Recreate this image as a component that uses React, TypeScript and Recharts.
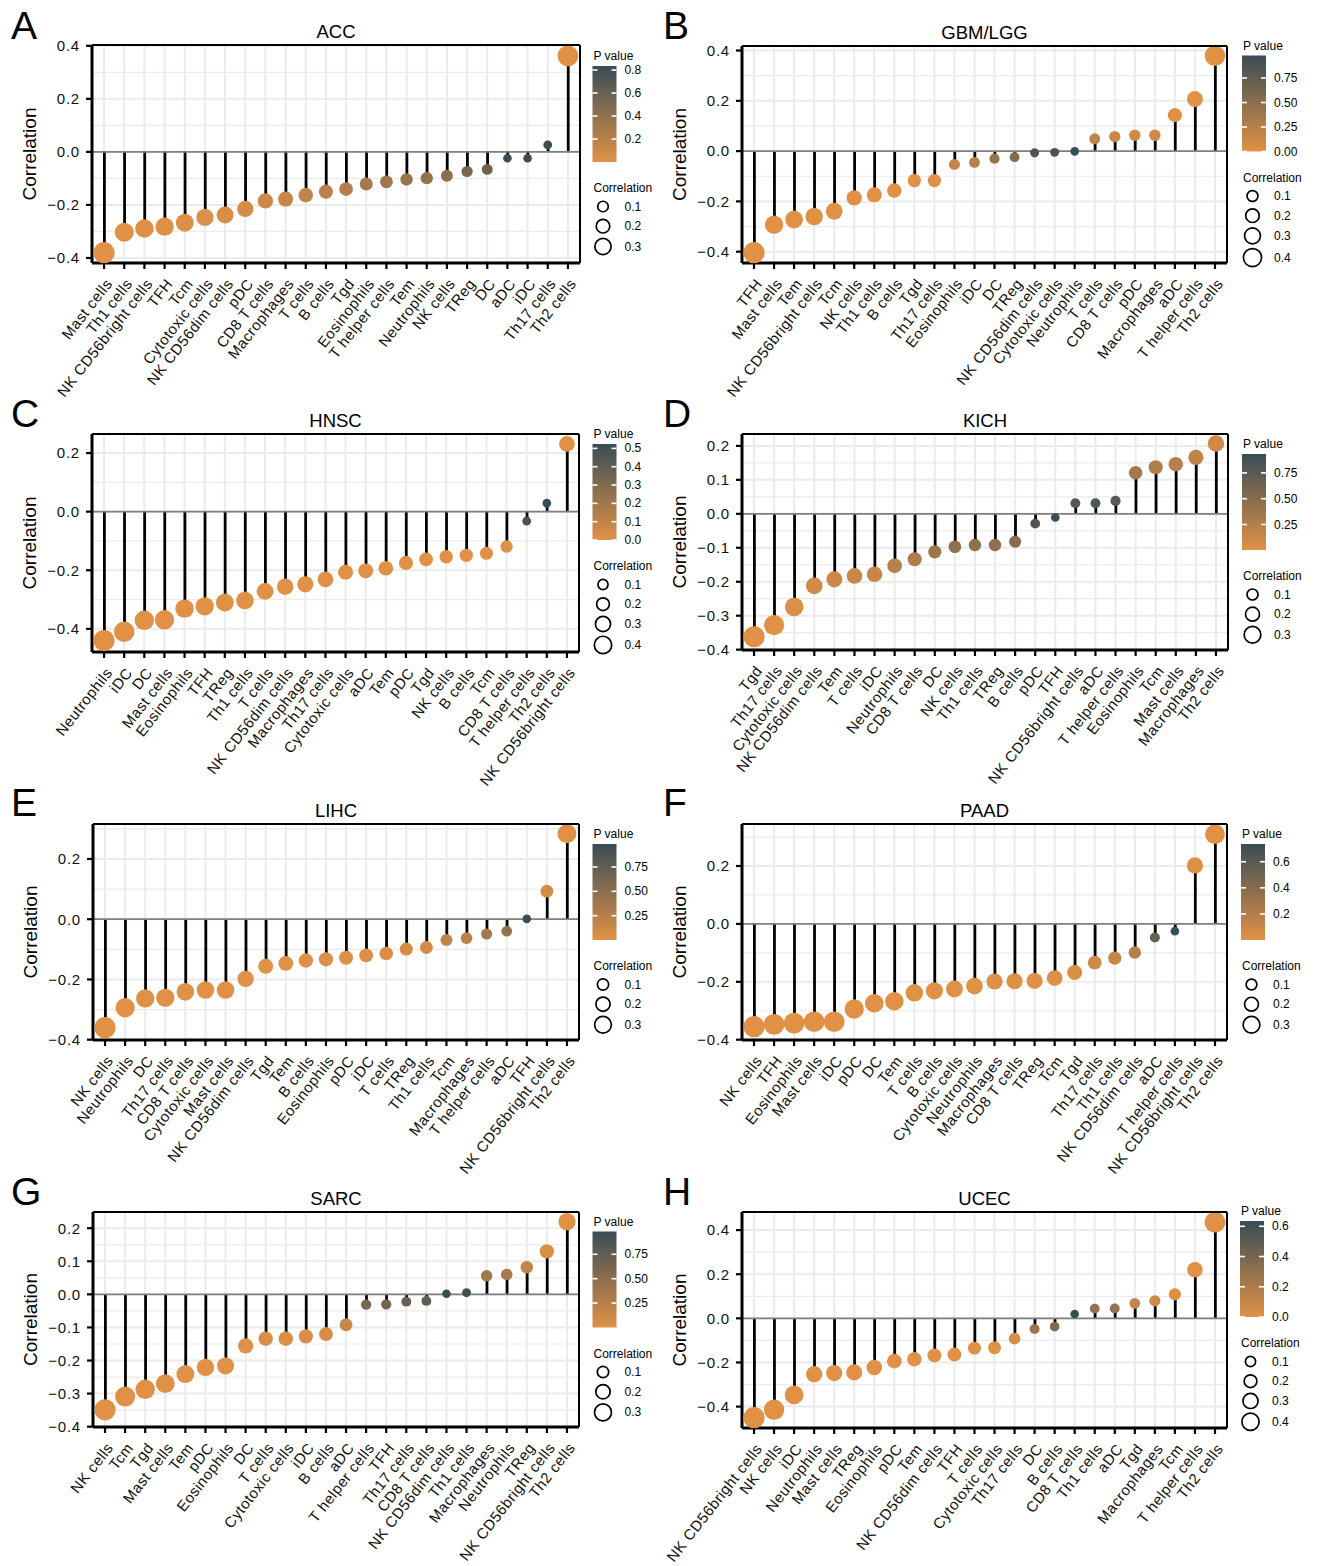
import React from "react"
import { Bar, CartesianGrid, ComposedChart, Line, ReferenceLine, XAxis, YAxis } from "recharts"

// ACC
const accCells = ["Mast cells", "Th1 cells", "NK CD56bright cells", "TFH", "Tcm", "Cytotoxic cells", "NK CD56dim cells", "pDC", "CD8 T cells", "Macrophages", "T cells", "B cells", "Tgd", "Eosinophils", "T helper cells", "Tem", "Neutrophils", "NK cells", "TReg", "DC", "aDC", "iDC", "Th17 cells", "Th2 cells"]
const accCor = [-0.38, -0.303, -0.289, -0.282, -0.267, -0.247, -0.238, -0.215, -0.185, -0.178, -0.163, -0.15, -0.14, -0.121, -0.113, -0.104, -0.099, -0.09, -0.074, -0.066, -0.024, -0.024, 0.026, 0.362]
const accP = [0.001, 0.007, 0.01, 0.012, 0.018, 0.028, 0.035, 0.057, 0.1, 0.12, 0.15, 0.19, 0.22, 0.29, 0.32, 0.36, 0.39, 0.43, 0.52, 0.56, 0.83, 0.835, 0.82, 0.001]

// GBM/LGG
const gbmCells = ["TFH", "Mast cells", "Tem", "NK CD56bright cells", "Tcm", "NK cells", "Th1 cells", "B cells", "Tgd", "Th17 cells", "Eosinophils", "iDC", "DC", "TReg", "NK CD56dim cells", "Cytotoxic cells", "Neutrophils", "T cells", "CD8 T cells", "pDC", "Macrophages", "aDC", "T helper cells", "Th2 cells"]
const gbmCor = [-0.404, -0.293, -0.272, -0.26, -0.239, -0.186, -0.174, -0.157, -0.117, -0.117, -0.053, -0.045, -0.03, -0.024, -0.007, -0.005, -0.001, 0.049, 0.058, 0.063, 0.063, 0.143, 0.207, 0.379]
const gbmP = [0, 0, 0, 0, 0, 0, 0, 0, 0.002, 0.002, 0.17, 0.24, 0.44, 0.53, 0.86, 0.9, 0.98, 0.2, 0.13, 0.1, 0.1, 0, 0, 0]

// HNSC
const hnscCells = ["Neutrophils", "iDC", "DC", "Mast cells", "Eosinophils", "TFH", "TReg", "Th1 cells", "T cells", "NK CD56dim cells", "Macrophages", "Th17 cells", "Cytotoxic cells", "aDC", "Tem", "pDC", "Tgd", "NK cells", "B cells", "Tcm", "CD8 T cells", "T helper cells", "Th2 cells", "NK CD56bright cells"]
const hnscCor = [-0.44, -0.41, -0.371, -0.369, -0.331, -0.323, -0.31, -0.303, -0.272, -0.256, -0.248, -0.231, -0.207, -0.202, -0.193, -0.175, -0.163, -0.154, -0.149, -0.142, -0.119, -0.032, 0.029, 0.231]
const hnscP = [0, 0, 0, 0, 0, 0, 0, 0, 0, 0, 0, 0, 0, 0, 0, 0, 0, 0, 0.001, 0.001, 0.006, 0.47, 0.524, 0]

// KICH
const kichCells = ["Tgd", "Th17 cells", "Cytotoxic cells", "NK CD56dim cells", "Tem", "T cells", "iDC", "Neutrophils", "CD8 T cells", "DC", "NK cells", "Th1 cells", "TReg", "B cells", "pDC", "TFH", "NK CD56bright cells", "aDC", "T helper cells", "Eosinophils", "Tcm", "Mast cells", "Macrophages", "Th2 cells"]
const kichCor = [-0.362, -0.328, -0.274, -0.212, -0.193, -0.183, -0.178, -0.153, -0.134, -0.112, -0.097, -0.092, -0.092, -0.082, -0.029, -0.011, 0.031, 0.031, 0.038, 0.121, 0.137, 0.146, 0.166, 0.207]
const kichP = [0.003, 0.007, 0.026, 0.087, 0.12, 0.14, 0.15, 0.22, 0.28, 0.37, 0.44, 0.46, 0.46, 0.51, 0.82, 0.933, 0.8, 0.8, 0.76, 0.33, 0.27, 0.24, 0.18, 0.095]

// LIHC
const lihcCells = ["NK cells", "Neutrophils", "DC", "Th17 cells", "CD8 T cells", "Cytotoxic cells", "Mast cells", "NK CD56dim cells", "Tgd", "Tem", "B cells", "Eosinophils", "pDC", "iDC", "T cells", "TReg", "Th1 cells", "Tcm", "Macrophages", "T helper cells", "aDC", "TFH", "NK CD56bright cells", "Th2 cells"]
const lihcCor = [-0.36, -0.294, -0.263, -0.261, -0.241, -0.235, -0.235, -0.198, -0.156, -0.147, -0.137, -0.133, -0.128, -0.12, -0.114, -0.099, -0.094, -0.069, -0.063, -0.049, -0.04, 0.001, 0.093, 0.284]
const lihcP = [0.0001, 0.0001, 0.0001, 0.0001, 0.0001, 0.0001, 0.0001, 0.0002, 0.003, 0.005, 0.008, 0.01, 0.014, 0.021, 0.028, 0.057, 0.07, 0.19, 0.23, 0.35, 0.44, 0.986, 0.075, 0.0001]

// PAAD
const paadCells = ["NK cells", "TFH", "Eosinophils", "Mast cells", "iDC", "pDC", "DC", "Tem", "T cells", "B cells", "Cytotoxic cells", "Neutrophils", "Macrophages", "CD8 T cells", "TReg", "Tcm", "Tgd", "Th17 cells", "Th1 cells", "NK CD56dim cells", "aDC", "T helper cells", "NK CD56bright cells", "Th2 cells"]
const paadCor = [-0.355, -0.347, -0.343, -0.338, -0.338, -0.294, -0.274, -0.267, -0.238, -0.231, -0.225, -0.215, -0.199, -0.198, -0.197, -0.187, -0.168, -0.134, -0.118, -0.099, -0.047, -0.025, 0.202, 0.31]
const paadP = [0.0001, 0.0001, 0.0001, 0.0001, 0.0001, 0.0001, 0.0002, 0.0003, 0.001, 0.002, 0.002, 0.004, 0.008, 0.008, 0.008, 0.012, 0.025, 0.074, 0.115, 0.19, 0.53, 0.736, 0.007, 0.0001]

// SARC
const sarcCells = ["NK cells", "Tcm", "Tgd", "Mast cells", "Tem", "pDC", "Eosinophils", "DC", "T cells", "Cytotoxic cells", "iDC", "B cells", "aDC", "T helper cells", "TFH", "Th17 cells", "CD8 T cells", "NK CD56dim cells", "Th1 cells", "Macrophages", "Neutrophils", "TReg", "NK CD56bright cells", "Th2 cells"]
const sarcCor = [-0.349, -0.309, -0.287, -0.27, -0.241, -0.221, -0.216, -0.156, -0.134, -0.134, -0.127, -0.12, -0.092, -0.031, -0.03, -0.022, -0.02, 0.002, 0.005, 0.056, 0.06, 0.082, 0.13, 0.22]
const sarcP = [0.0001, 0.0001, 0.0001, 0.0001, 0.0001, 0.0003, 0.0004, 0.011, 0.03, 0.03, 0.04, 0.052, 0.14, 0.62, 0.63, 0.72, 0.75, 0.983, 0.94, 0.37, 0.33, 0.18, 0.035, 0.0003]

// UCEC
const ucecCells = ["NK CD56bright cells", "NK cells", "iDC", "Neutrophils", "Mast cells", "TReg", "Eosinophils", "pDC", "Tem", "NK CD56dim cells", "TFH", "T cells", "Cytotoxic cells", "Th17 cells", "DC", "B cells", "CD8 T cells", "Th1 cells", "aDC", "Tgd", "Macrophages", "Tcm", "T helper cells", "Th2 cells"]
const ucecCor = [-0.45, -0.414, -0.347, -0.253, -0.248, -0.245, -0.223, -0.194, -0.185, -0.168, -0.164, -0.135, -0.133, -0.092, -0.048, -0.038, 0.02, 0.044, 0.045, 0.068, 0.079, 0.109, 0.22, 0.436]
const ucecP = [0, 0, 0, 0, 0, 0, 0, 0, 0, 0, 0, 0.002, 0.002, 0.03, 0.26, 0.37, 0.635, 0.3, 0.29, 0.11, 0.065, 0.011, 0, 0]

// colour bar tick labels
const pTicksA = ["0.2", "0.4", "0.6", "0.8"]
const pTicksB = ["0.00", "0.25", "0.50", "0.75"]
const pTicksC = ["0.0", "0.1", "0.2", "0.3", "0.4", "0.5"]
const pTicksD = ["0.25", "0.50", "0.75"]
const pTicksF = ["0.2", "0.4", "0.6"]
const pTicksH = ["0.0", "0.2", "0.4", "0.6"]

const sizeBreaks = [0.1, 0.2, 0.3, 0.4]

const FONT = '"Liberation Sans", Arial, Helvetica, sans-serif'
const ORANGE = [224, 145, 70]
const SLATE = [57, 77, 86]

interface PanelCfg {
  letter: string
  title: string
  cells: string[]
  cor: number[]
  p: number[]
  pTicks: string[]
  yTicks: number[]
  yMinor: number[]
  domain: [number, number]
  L: number
  T: number
  R: number
  B: number
  legendX: number
}

const panels: PanelCfg[] = [
  { letter: "A", title: "ACC", cells: accCells, cor: accCor, p: accP, pTicks: pTicksA, yTicks: [-0.4, -0.2, 0, 0.2, 0.4], yMinor: [-0.3, -0.1, 0.1, 0.3], domain: [-0.419, 0.403], L: 92, T: 45, R: 580, B: 263, legendX: 592.5 },
  { letter: "B", title: "GBM/LGG", cells: gbmCells, cor: gbmCor, p: gbmP, pTicks: pTicksB, yTicks: [-0.4, -0.2, 0, 0.2, 0.4], yMinor: [-0.3, -0.1, 0.1, 0.3], domain: [-0.445, 0.418], L: 742, T: 46, R: 1227, B: 263, legendX: 1242 },
  { letter: "C", title: "HNSC", cells: hnscCells, cor: hnscCor, p: hnscP, pTicks: pTicksC, yTicks: [-0.4, -0.2, 0, 0.2], yMinor: [-0.3, -0.1, 0.1], domain: [-0.479, 0.265], L: 92, T: 434, R: 579, B: 652, legendX: 592.5 },
  { letter: "D", title: "KICH", cells: kichCells, cor: kichCor, p: kichP, pTicks: pTicksD, yTicks: [-0.4, -0.3, -0.2, -0.1, 0, 0.1, 0.2], yMinor: [-0.35, -0.25, -0.15, -0.05, 0.05, 0.15], domain: [-0.401, 0.235], L: 742, T: 434, R: 1228, B: 650, legendX: 1242 },
  { letter: "E", title: "LIHC", cells: lihcCells, cor: lihcCor, p: lihcP, pTicks: pTicksD, yTicks: [-0.4, -0.2, 0, 0.2], yMinor: [-0.3, -0.1, 0.1, 0.3], domain: [-0.401, 0.316], L: 93, T: 824, R: 579, B: 1040, legendX: 592.5 },
  { letter: "F", title: "PAAD", cells: paadCells, cor: paadCor, p: paadP, pTicks: pTicksF, yTicks: [-0.4, -0.2, 0, 0.2], yMinor: [-0.3, -0.1, 0.1, 0.3], domain: [-0.401, 0.345], L: 742, T: 824, R: 1227, B: 1040, legendX: 1241 },
  { letter: "G", title: "SARC", cells: sarcCells, cor: sarcCor, p: sarcP, pTicks: pTicksD, yTicks: [-0.4, -0.3, -0.2, -0.1, 0, 0.1, 0.2], yMinor: [-0.35, -0.25, -0.15, -0.05, 0.05, 0.15], domain: [-0.401, 0.249], L: 93, T: 1212, R: 579, B: 1427, legendX: 592.5 },
  { letter: "H", title: "UCEC", cells: ucecCells, cor: ucecCor, p: ucecP, pTicks: pTicksH, yTicks: [-0.4, -0.2, 0, 0.2, 0.4], yMinor: [-0.3, -0.1, 0.1, 0.3], domain: [-0.497, 0.482], L: 742, T: 1212, R: 1227, B: 1428, legendX: 1240 },
]

function mixColor(t: number) {
  const k = Math.max(0, Math.min(1, t))
  const c = ORANGE.map((o, i) => Math.round(o + (SLATE[i] - o) * k))
  return `rgb(${c[0]},${c[1]},${c[2]})`
}

function stats(cfg: PanelCfg) {
  const abs = cfg.cor.map((v) => Math.abs(v))
  return {
    aMin: Math.min(...abs),
    aMax: Math.max(...abs),
    pMin: Math.min(...cfg.p),
    pMax: Math.max(...cfg.p),
  }
}

// point radius grows with |correlation|, like ggplot's size scale
function dotRadius(a: number, aMin: number, aMax: number) {
  const f = Math.max(0, (a - aMin) / (aMax - aMin))
  return 4.3 + 6.3 * Math.pow(f, 0.8)
}

const fmtY = (v: number) => (v < 0 ? "\u2212" : "") + Math.abs(v).toFixed(1)

function XTick({ x, y, payload }: any) {
  const ax = x + 9
  const ay = y + 13
  return (
    <text
      x={ax}
      y={ay}
      transform={`rotate(-52 ${ax} ${ay})`}
      textAnchor="end"
      fontSize={15}
      letterSpacing={0.5}
      fontFamily={FONT}
      fill="#111"
    >
      {payload.value}
    </text>
  )
}

function LollipopChart({ cfg }: { cfg: PanelCfg }) {
  const { aMin, aMax, pMin, pMax } = stats(cfg)
  const data = cfg.cells.map((name, i) => ({ name, r: cfg.cor[i], p: cfg.p[i] }))
  const width = cfg.R - cfg.L + 120
  const height = cfg.B - cfg.T + 190

  return (
    <div style={{ position: "absolute", left: cfg.L - 100, top: cfg.T - 20, width, height }}>
      <ComposedChart width={width} height={height} data={data} margin={{ top: 20, right: 20, bottom: 0, left: 0 }}>
        <CartesianGrid vertical={false} horizontalValues={cfg.yMinor} stroke="#EBEBEB" strokeWidth={1.2} />
        <CartesianGrid stroke="#EBEBEB" strokeWidth={2} />
        <XAxis
          dataKey="name"
          interval={0}
          height={170}
          padding={{ left: 2, right: 2 }}
          tick={<XTick />}
          tickSize={6}
          tickMargin={2}
          tickLine={{ stroke: "#000", strokeWidth: 2.2 }}
          axisLine={{ stroke: "#000", strokeWidth: 3 }}
        />
        <YAxis
          type="number"
          width={100}
          domain={cfg.domain}
          ticks={cfg.yTicks}
          tickFormatter={fmtY}
          tickSize={6}
          tickMargin={6}
          tick={{ fill: "#111", fontSize: 15, letterSpacing: 0.8, fontFamily: FONT }}
          tickLine={{ stroke: "#000", strokeWidth: 2.2 }}
          axisLine={{ stroke: "#000", strokeWidth: 3 }}
        />
        <ReferenceLine y={0} stroke="#808080" strokeWidth={1.8} />
        <Bar dataKey="r" fill="#000" barSize={2.8} isAnimationActive={false} />
        <Line
          dataKey="r"
          stroke="none"
          isAnimationActive={false}
          activeDot={false}
          dot={(props: any) => {
            const d = props.payload
            return (
              <circle
                key={`dot-${props.index}`}
                cx={props.cx}
                cy={props.cy}
                r={dotRadius(Math.abs(d.r), aMin, aMax)}
                fill={mixColor((d.p - pMin) / (pMax - pMin))}
              />
            )
          }}
        />
      </ComposedChart>
    </div>
  )
}

function PanelDecor({ cfg, idx }: { cfg: PanelCfg; idx: number }) {
  const { aMin, aMax, pMin, pMax } = stats(cfg)
  const left = idx % 2 === 0
  const row = Math.floor(idx / 2)
  const letterBase = [39, 427, 816, 1205][row]
  const cx = (cfg.L + cfg.R) / 2
  const cy = (cfg.T + cfg.B) / 2
  const breaks = sizeBreaks.filter((b) => b <= aMax)

  // legend block
  const lx = cfg.legendX
  const y0 = cy - (breaks.length > 3 ? 109 : 98)
  const barTop = y0 + 10
  const barH = 96
  const barBottom = barTop + barH
  const corrTitleY = barBottom + 26
  const legR = breaks.map((b) => dotRadius(b, aMin, aMax) * 0.86)
  const keyH = legR.map((r) => Math.max(17.5, 2 * r + 2.5))
  const rowY: number[] = []
  breaks.forEach((_, k) => {
    if (k === 0) rowY.push(corrTitleY + 18.5)
    else rowY.push(rowY[k - 1] + (keyH[k - 1] + keyH[k]) / 2 + 2.2)
  })

  return (
    <g fontFamily={FONT}>
      <text x={left ? 11 : 663} y={letterBase} fontSize={39} fill="#000">
        {cfg.letter}
      </text>
      <text x={cx} y={cfg.T - 7.5} fontSize={18.5} textAnchor="middle" fill="#000">
        {cfg.title}
      </text>
      <text
        x={cfg.L - 63}
        y={cy}
        fontSize={19}
        textAnchor="middle"
        dominantBaseline="central"
        transform={`rotate(-90 ${cfg.L - 63} ${cy})`}
        fill="#000"
      >
        Correlation
      </text>
      {/* top and right panel border */}
      <line x1={cfg.L} y1={cfg.T} x2={cfg.R} y2={cfg.T} stroke="#000" strokeWidth={2} />
      <line x1={cfg.R} y1={cfg.T} x2={cfg.R} y2={cfg.B} stroke="#000" strokeWidth={2} />

      {/* P value colour bar */}
      <text x={lx + 1} y={y0} fontSize={12} dominantBaseline="central" fill="#000">
        P value
      </text>
      <rect x={lx} y={barTop} width={24} height={barH} fill="url(#pgrad)" />
      {cfg.pTicks.map((t) => {
        const v = parseFloat(t)
        const yy = barBottom - ((v - pMin) / (pMax - pMin)) * barH
        return (
          <g key={t}>
            <line x1={lx} x2={lx + 5} y1={yy} y2={yy} stroke="#fff" strokeWidth={1.6} />
            <line x1={lx + 19} x2={lx + 24} y1={yy} y2={yy} stroke="#fff" strokeWidth={1.6} />
            <text x={lx + 32} y={yy} fontSize={12} dominantBaseline="central" fill="#000">
              {t}
            </text>
          </g>
        )
      })}

      {/* size legend */}
      <text x={lx + 1} y={corrTitleY} fontSize={12} dominantBaseline="central" fill="#000">
        Correlation
      </text>
      {breaks.map((b, k) => (
        <g key={b}>
          <circle cx={lx + 10.5} cy={rowY[k]} r={legR[k]} fill="none" stroke="#000" strokeWidth={1.7} />
          <text x={lx + 32} y={rowY[k]} fontSize={12} dominantBaseline="central" fill="#000">
            {b.toFixed(1)}
          </text>
        </g>
      ))}
    </g>
  )
}

export default function App() {
  return (
    <div style={{ position: "absolute", left: 0, top: 0, width: 1324, height: 1566, background: "#fff", overflow: "hidden" }}>
      {panels.map((cfg) => (
        <LollipopChart key={cfg.letter} cfg={cfg} />
      ))}
      <svg width={1324} height={1566} style={{ position: "absolute", left: 0, top: 0, pointerEvents: "none" }}>
        <defs>
          <linearGradient id="pgrad" x1="0" y1="0" x2="0" y2="1">
            <stop offset="0%" stopColor={mixColor(1)} />
            <stop offset="50%" stopColor={mixColor(0.5)} />
            <stop offset="100%" stopColor={mixColor(0)} />
          </linearGradient>
        </defs>
        {panels.map((cfg, i) => (
          <PanelDecor key={cfg.letter} cfg={cfg} idx={i} />
        ))}
      </svg>
    </div>
  )
}
